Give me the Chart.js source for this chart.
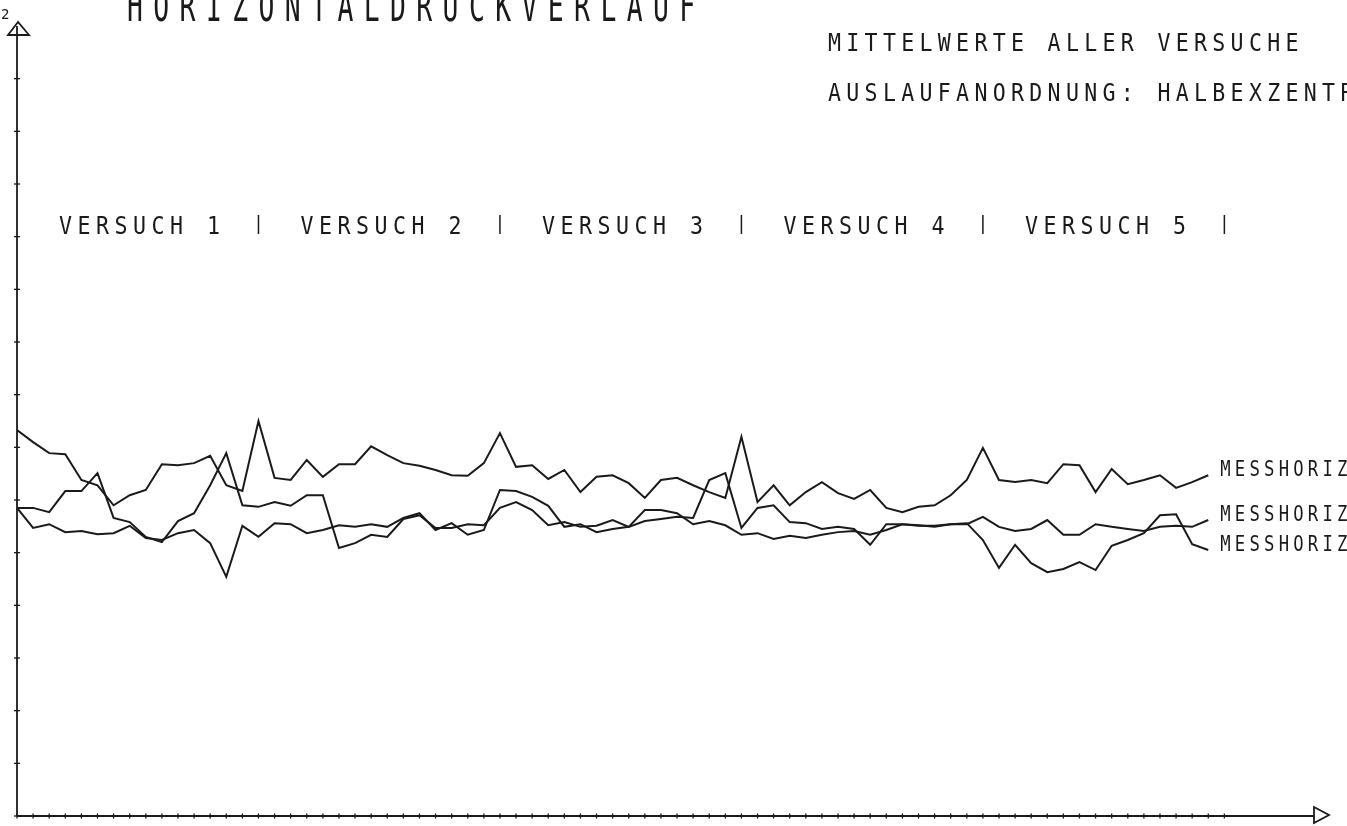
<!DOCTYPE html>
<html>
<head>
<meta charset="utf-8">
<title>Horizontaldruckverlauf</title>
<script src="https://cdn.jsdelivr.net/npm/chart.js@4.4.1/dist/chart.umd.min.js"></script>
<style>
    html, body { margin: 0; padding: 0; background: #fff; }
    #wrap { width: 1347px; height: 826px; }
</style>
</head>
<body>
<div id="wrap"><canvas id="druckChart" width="1347" height="826"></canvas></div>
<script>
var titel = 'HORIZONTALDRUCKVERLAUF';
var untertitel = ['MITTELWERTE ALLER VERSUCHE', 'AUSLAUFANORDNUNG: HALBEXZENTRISCH'];
var versuche = ['VERSUCH 1', 'VERSUCH 2', 'VERSUCH 3', 'VERSUCH 4', 'VERSUCH 5'];
var punkteProVersuch = 15;
var yMarke = '2';
var yStriche = 14;
var xStriche = 75;
var kurvenNamen = ['MESSHORIZONT 1', 'MESSHORIZONT 2', 'MESSHORIZONT 3'];

var horizont1 = [
    7.33, 7.10, 6.89, 6.87, 6.38, 6.28, 5.90, 6.09, 6.19, 6.68, 6.66, 6.70, 6.84, 6.28, 6.17,
    7.50, 6.42, 6.38, 6.76, 6.44, 6.68, 6.68, 7.02, 6.85, 6.70, 6.65, 6.57, 6.47, 6.46, 6.70,
    7.27, 6.63, 6.66, 6.40, 6.57, 6.15, 6.44, 6.47, 6.32, 6.04, 6.38, 6.42, 6.28, 6.15, 6.04,
    7.20, 5.96, 6.28, 5.90, 6.15, 6.34, 6.13, 6.02, 6.19, 5.85, 5.77, 5.87, 5.90, 6.09, 6.38,
    6.99, 6.38, 6.34, 6.38, 6.32, 6.68, 6.66, 6.15, 6.59, 6.30, 6.38, 6.47, 6.23, 6.34, 6.47
];
var horizont2 = [
    5.85, 5.47, 5.54, 5.39, 5.41, 5.35, 5.37, 5.51, 5.28, 5.24, 5.37, 5.43, 5.18, 4.54, 5.51,
    5.30, 5.56, 5.54, 5.37, 5.43, 5.52, 5.49, 5.54, 5.49, 5.66, 5.75, 5.43, 5.56, 5.34, 5.43,
    6.19, 6.17, 6.06, 5.89, 5.49, 5.54, 5.39, 5.45, 5.49, 5.81, 5.81, 5.75, 5.54, 5.60, 5.52,
    5.34, 5.37, 5.26, 5.32, 5.28, 5.34, 5.39, 5.41, 5.34, 5.43, 5.54, 5.51, 5.51, 5.54, 5.54,
    5.68, 5.49, 5.41, 5.45, 5.62, 5.34, 5.34, 5.54, 5.49, 5.45, 5.41, 5.49, 5.51, 5.49, 5.62
];
var horizont3 = [
    5.85, 5.85, 5.77, 6.17, 6.17, 6.51, 5.66, 5.58, 5.30, 5.20, 5.60, 5.75, 6.28, 6.89, 5.90,
    5.87, 5.96, 5.89, 6.09, 6.09, 5.09, 5.18, 5.34, 5.30, 5.64, 5.71, 5.47, 5.47, 5.54, 5.52,
    5.85, 5.96, 5.81, 5.52, 5.58, 5.49, 5.51, 5.62, 5.49, 5.60, 5.64, 5.68, 5.66, 6.38, 6.51,
    5.47, 5.85, 5.90, 5.58, 5.56, 5.45, 5.49, 5.45, 5.15, 5.54, 5.54, 5.52, 5.49, 5.54, 5.56,
    5.24, 4.71, 5.15, 4.80, 4.63, 4.69, 4.82, 4.67, 5.13, 5.24, 5.37, 5.71, 5.73, 5.16, 5.05
];

var TINTE = '#1a1a1a';
var SCHRIFT = '"DejaVu Sans Mono", monospace';

function punkte(werte) {
    return werte.map(function (v, i) { return { x: i, y: v }; });
}

// plotter lettering: mono glyphs stretched, fixed pitch in pixels
function plotText(ctx, text, x, grundlinie, groesse, sx, sy, teilung) {
    ctx.save();
    ctx.font = groesse + 'px ' + SCHRIFT;
    ctx.letterSpacing = '0px';
    var breite = ctx.measureText('M').width;
    ctx.letterSpacing = (teilung / sx - breite) + 'px';
    ctx.fillStyle = TINTE;
    ctx.textBaseline = 'alphabetic';
    ctx.translate(x, grundlinie);
    ctx.scale(sx, sy);
    ctx.fillText(text, 0, 0);
    ctx.restore();
}

var achsenPlugin = {
    id: 'achsen',
    beforeDatasetsDraw: function (chart) {
        var ctx = chart.ctx;
        var xs = chart.scales.x, ys = chart.scales.y;
        var x0 = xs.getPixelForValue(0), y0 = ys.getPixelForValue(0);
        var i, p;

        ctx.save();
        ctx.strokeStyle = TINTE;
        ctx.lineWidth = 1.8;

        // y axis with arrow head
        var yTop = ys.top - 4;
        ctx.beginPath();
        ctx.moveTo(x0, y0);
        ctx.lineTo(x0, yTop + 4);
        ctx.stroke();
        ctx.beginPath();
        ctx.moveTo(x0 + 1, yTop);
        ctx.lineTo(x0 - 9, yTop + 13);
        ctx.lineTo(x0 + 12, yTop + 13);
        ctx.closePath();
        ctx.stroke();

        // x axis with arrow head
        var xEnd = xs.right;
        ctx.beginPath();
        ctx.moveTo(x0, y0);
        ctx.lineTo(xEnd - 15, y0);
        ctx.stroke();
        ctx.beginPath();
        ctx.moveTo(xEnd - 15, y0 - 9);
        ctx.lineTo(xEnd, y0 - 1);
        ctx.lineTo(xEnd - 15, y0 + 7);
        ctx.closePath();
        ctx.stroke();

        ctx.lineWidth = 1.3;
        for (i = 0; i <= yStriche; i++) {
            p = ys.getPixelForValue(i);
            ctx.beginPath();
            ctx.moveTo(x0 - 3, p);
            ctx.lineTo(x0 + 3, p);
            ctx.stroke();
        }
        for (i = 0; i <= xStriche; i++) {
            p = xs.getPixelForValue(i);
            ctx.beginPath();
            ctx.moveTo(p, y0 - 2.5);
            ctx.lineTo(p, y0 + 2.5);
            ctx.stroke();
        }
        ctx.restore();
    },
    afterDraw: function (chart) {
        var ctx = chart.ctx;
        var xs = chart.scales.x, ys = chart.scales.y;

        ctx.save();
        ctx.font = '14px ' + SCHRIFT;
        ctx.fillStyle = TINTE;
        ctx.fillText(yMarke, 1, 19);
        ctx.restore();

        plotText(ctx, titel, 127, 21, 22, 1.2, 1.95, 26.3);
        plotText(ctx, untertitel[0], 828, 51, 18, 1.2, 1.38, 18.3);
        plotText(ctx, untertitel[1], 828, 101, 18, 1.2, 1.38, 18.3);

        // experiment headings, one block of points per run
        versuche.forEach(function (name, k) {
            var start = xs.getPixelForValue(k * punkteProVersuch);
            var grenze = xs.getPixelForValue((k + 1) * punkteProVersuch);
            plotText(ctx, name, start + 42, 234, 18, 1.2, 1.38, 18.5);
            ctx.save();
            ctx.strokeStyle = TINTE;
            ctx.lineWidth = 1.5;
            ctx.beginPath();
            ctx.moveTo(grenze, 215);
            ctx.lineTo(grenze, 234);
            ctx.stroke();
            ctx.restore();
        });

        // curve names at the line ends
        chart.data.datasets.forEach(function (ds) {
            var letzter = ds.data[ds.data.length - 1];
            var px = xs.getPixelForValue(letzter.x) + 12;
            var py = ys.getPixelForValue(letzter.y) + 1;
            plotText(ctx, ds.label, px, py, 15, 1.15, 1.36, 14.6);
        });
    }
};

var chart = new Chart(document.getElementById('druckChart'), {
    type: 'line',
    data: {
        datasets: [{
            label: kurvenNamen[0],
            data: punkte(horizont1)
        }, {
            label: kurvenNamen[1],
            data: punkte(horizont2)
        }, {
            label: kurvenNamen[2],
            data: punkte(horizont3)
        }]
    },
    options: {
        responsive: false,
        animation: false,
        devicePixelRatio: 1,
        layout: { padding: { left: 17, top: 26, right: 18, bottom: 10 } },
        elements: {
            line: { borderColor: TINTE, borderWidth: 2, tension: 0, fill: false },
            point: { radius: 0 }
        },
        scales: {
            x: { type: 'linear', min: 0, max: 81.5, display: false },
            y: { type: 'linear', min: 0, max: 15, display: false }
        },
        plugins: {
            legend: { display: false },
            tooltip: { enabled: false }
        }
    },
    plugins: [achsenPlugin]
});
</script>
</body>
</html>
